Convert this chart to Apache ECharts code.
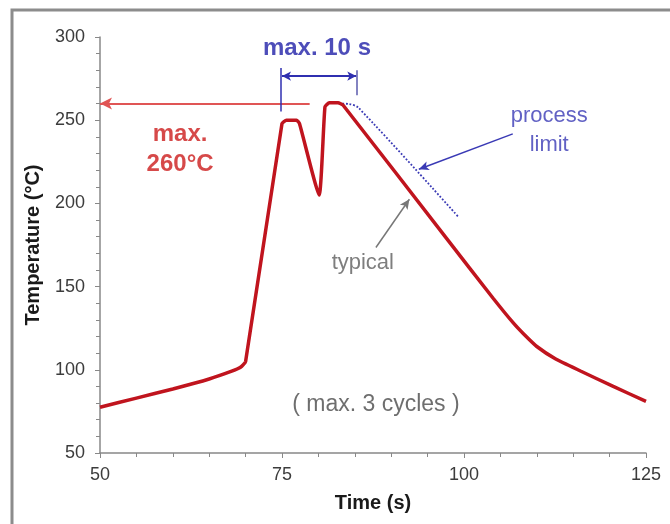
<!DOCTYPE html>
<html>
<head>
<meta charset="utf-8">
<script src="https://cdn.jsdelivr.net/npm/echarts@6/dist/echarts.min.js"></script>
<style>
  html, body { margin: 0; padding: 0; background: #fff; }
  #chart { width: 670px; height: 524px; }
</style>
</head>
<body>
<div id="chart"></div>
<script>
// reflow profile (typical)
var times = [50, 55, 60, 65, 68, 69.3, 70, 75, 75.6, 77, 77.4, 80.1, 80.9, 81.5, 82.7, 83.4, 97.6, 104, 106.8, 108.2, 110, 112.6, 116, 120.5, 125];
var temps = [77.5, 83, 88.5, 94.5, 99, 101.5, 105, 248, 250, 250, 248, 205, 258, 260.5, 260.5, 259, 179, 143, 128, 121.5, 114, 106.5, 99.3, 90, 81];

// process limit (dotted)
var limitTimes = [82.8, 84.2, 85.5, 99.2];
var limitTemps = [260, 259.7, 257.5, 192];

// text notes: [time, temp]
var noteTexts = ['max. 10 s', 'max.\n260°C', 'process\nlimit', 'typical', '( max. 3 cycles )'];
var noteTimes = [79.8, 61, 111.7, 86.1, 87.9];
var noteTemps = [293, 232.7, 243.8, 164, 78.8];

var xTicks = [50, 75, 100, 125];
var yTicks = [50, 100, 150, 200, 250, 300];

var noteStyles = [
    { fontSize: 24, fontWeight: 'bold', color: '#2020a8' },
    { fontSize: 24, fontWeight: 'bold', color: '#cc1c1c', lineHeight: 30 },
    { fontSize: 22, color: '#3a3ab5', lineHeight: 29 },
    { fontSize: 22, color: '#5e5e5e' },
    { fontSize: 23, color: '#4a4a4a' }
];

function pairs(xs, ys) {
    return xs.map(function (x, i) { return [x, ys[i]]; });
}

var myChart = echarts.init(document.getElementById('chart'));

var option = {
    animation: false,
    textStyle: { fontFamily: '"Liberation Sans", Arial, sans-serif' },
    graphic: [{
        type: 'rect',
        shape: { x: 12, y: 10, width: 700, height: 560 },
        style: { fill: 'none', stroke: '#8c8c8c', lineWidth: 3 },
        silent: true
    }],
    grid: { left: 100, right: 24, top: 37, bottom: 71 },
    xAxis: {
        type: 'value',
        min: xTicks[0],
        max: xTicks[xTicks.length - 1],
        interval: 25,
        name: 'Time (s)',
        nameLocation: 'middle',
        nameGap: 40,
        nameTextStyle: { fontSize: 20, fontWeight: 'bold', color: '#1a1a1a' },
        axisLine: { lineStyle: { color: '#888', width: 1.5 } },
        axisTick: { length: 5, lineStyle: { color: '#888' } },
        minorTick: { show: true, splitNumber: 5, length: 4, lineStyle: { color: '#888' } },
        axisLabel: { fontSize: 18, color: '#3c3c3c', margin: 13 },
        splitLine: { show: false }
    },
    yAxis: {
        type: 'value',
        min: yTicks[0],
        max: yTicks[yTicks.length - 1],
        interval: 50,
        name: 'Temperature (°C)',
        nameLocation: 'middle',
        nameGap: 57,
        nameTextStyle: { fontSize: 20, fontWeight: 'bold', color: '#1a1a1a' },
        axisLine: { show: true, lineStyle: { color: '#888', width: 1.5 } },
        axisTick: { show: true, length: 5, lineStyle: { color: '#888' } },
        minorTick: { show: true, splitNumber: 5, length: 4, lineStyle: { color: '#888' } },
        axisLabel: { fontSize: 18, color: '#3c3c3c', margin: 15 },
        splitLine: { show: false }
    },
    series: [
        {
            name: 'typical',
            type: 'line',
            data: pairs(times, temps),
            showSymbol: false,
            smooth: 0.15,
            lineStyle: { color: '#c0141e', width: 3.5 },
            z: 5
        },
        {
            name: 'process limit',
            type: 'line',
            data: pairs(limitTimes, limitTemps),
            showSymbol: false,
            smooth: 0.3,
            lineStyle: { color: '#3a3ab5', width: 1.8, type: 'dotted' },
            z: 4,
            markLine: {
                silent: true,
                label: { show: false },
                data: [
                    // 260 °C arrow
                    [{ coord: [78.8, 260], symbol: 'none', lineStyle: { color: '#e05555', width: 2, type: 'solid' } },
                     { coord: [50, 260], symbol: 'arrow', symbolSize: [9, 12] }],
                    // 10 s dimension
                    [{ coord: [75, 276.5], symbol: 'arrow', symbolSize: [7, 9], lineStyle: { color: '#2f2fb0', width: 2, type: 'solid' } },
                     { coord: [85.2, 276.5], symbol: 'arrow', symbolSize: [7, 9] }],
                    [{ coord: [74.8, 281.4], symbol: 'none', lineStyle: { color: '#2f2fb0', width: 1.5, type: 'solid' } },
                     { coord: [74.8, 255.3], symbol: 'none' }],
                    [{ coord: [85.2, 280], symbol: 'none', lineStyle: { color: '#5a5aac', width: 1.5, type: 'solid' } },
                     { coord: [85.2, 265], symbol: 'none' }],
                    // process limit pointer
                    [{ coord: [106.7, 241.8], symbol: 'none', lineStyle: { color: '#3a3ab5', width: 1.5, type: 'solid' } },
                     { coord: [93.8, 220.5], symbol: 'arrow', symbolSize: [7, 10] }],
                    // typical pointer
                    [{ coord: [87.9, 173.5], symbol: 'none', lineStyle: { color: '#777', width: 1.5, type: 'solid' } },
                     { coord: [92.5, 202.5], symbol: 'arrow', symbolSize: [7, 10] }]
                ]
            }
        },
        {
            name: 'notes',
            type: 'scatter',
            symbolSize: 0.1,
            itemStyle: { color: 'rgba(0,0,0,0)' },
            silent: true,
            data: noteTexts.map(function (txt, i) {
                var st = noteStyles[i];
                return {
                    value: [noteTimes[i], noteTemps[i]],
                    label: {
                        show: true,
                        position: 'inside',
                        formatter: txt,
                        fontSize: st.fontSize,
                        fontWeight: st.fontWeight || 'normal',
                        color: st.color,
                        lineHeight: st.lineHeight || st.fontSize * 1.2,
                        align: 'center'
                    }
                };
            }),
            z: 6
        }
    ]
};

myChart.setOption(option);
</script>
</body>
</html>
